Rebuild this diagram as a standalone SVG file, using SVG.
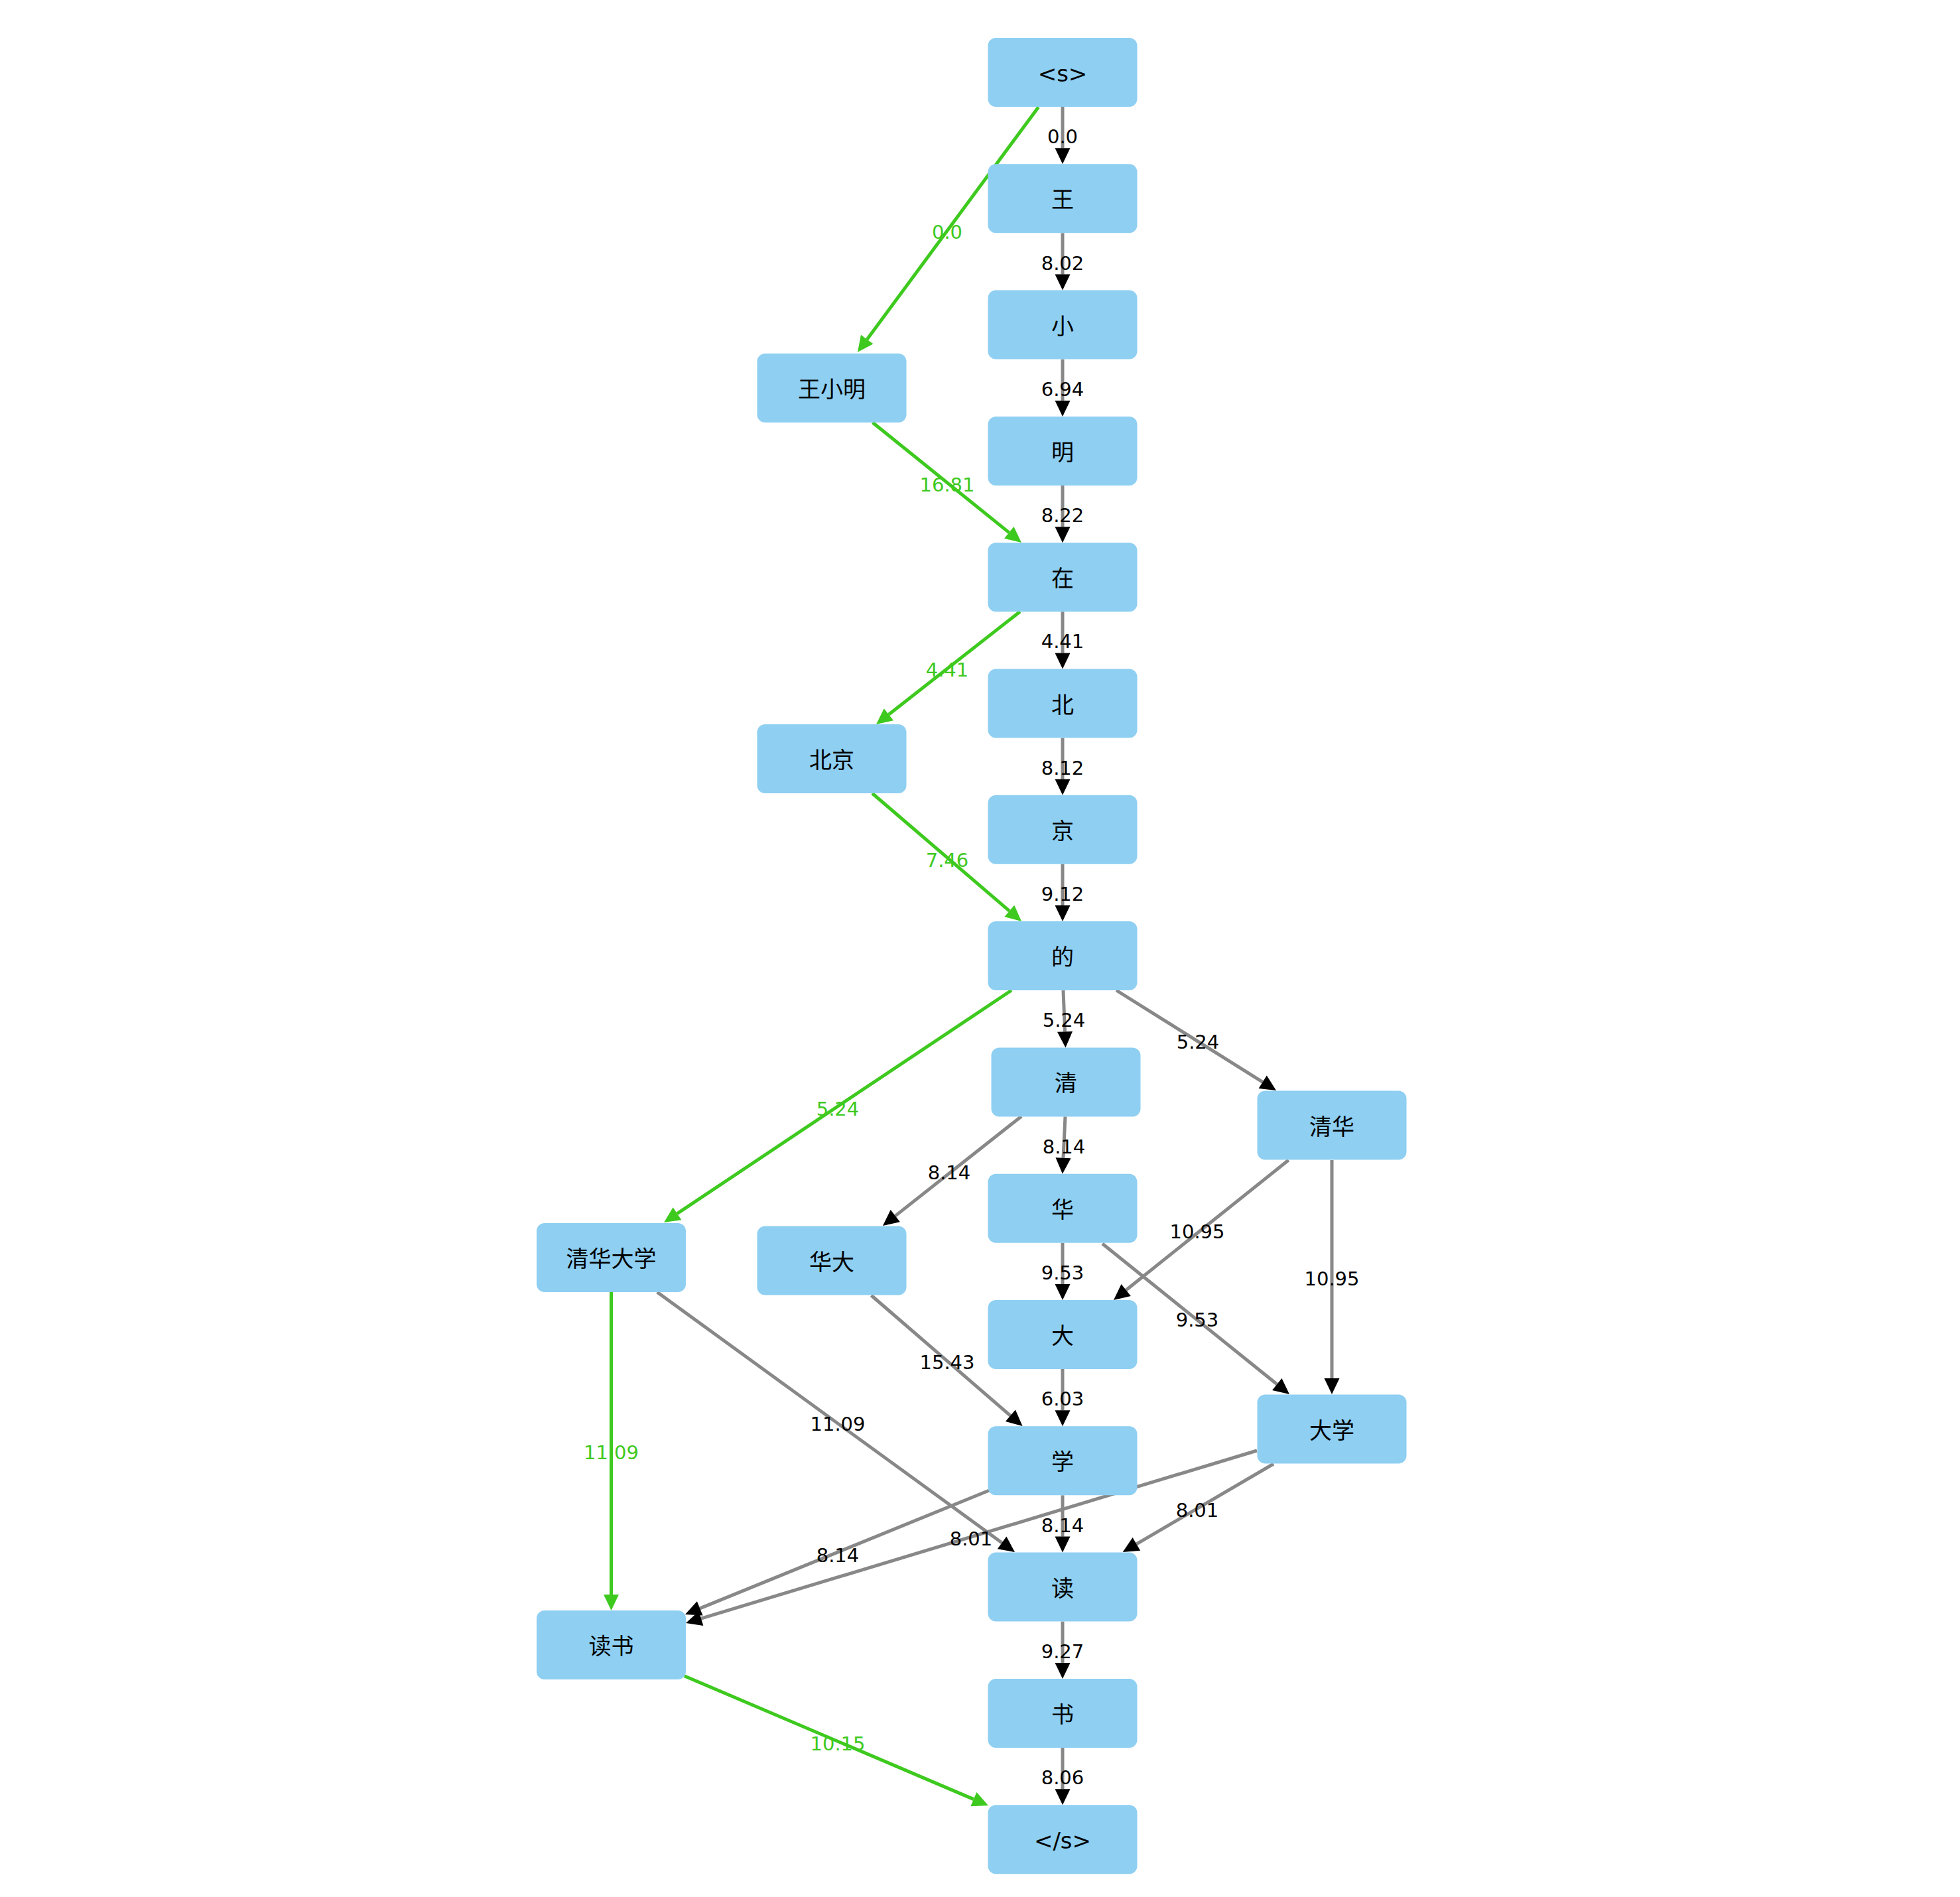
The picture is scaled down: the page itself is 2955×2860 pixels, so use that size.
<svg xmlns="http://www.w3.org/2000/svg" width="2955" height="2860" viewBox="0 0 2955 2860">
<defs>
<style>
.node rect{fill:#8ecff2;}
.node text{font-family:"DejaVu Sans","Noto Sans CJK SC",sans-serif;font-size:34px;fill:#000;text-anchor:middle;dominant-baseline:central;transform:translateY(2px);}
.e{stroke:#888888;stroke-width:5;fill:none;marker-end:url(#ab);}
.g{stroke:#3ec91f;stroke-width:5;fill:none;marker-end:url(#ag);}
.lb{font-family:"DejaVu Sans",sans-serif;font-size:29px;fill:#000;text-anchor:middle;dominant-baseline:central;transform:translateY(2px);}
.lg{font-family:"DejaVu Sans",sans-serif;font-size:29px;fill:#3ec91f;text-anchor:middle;dominant-baseline:central;transform:translateY(2px);}
</style>
<marker id="ab" markerUnits="userSpaceOnUse" markerWidth="26" markerHeight="26" refX="0" refY="11.5" orient="auto" overflow="visible"><path d="M0,0 L24,11.5 L0,23 z" fill="#000"/></marker>
<marker id="ag" markerUnits="userSpaceOnUse" markerWidth="26" markerHeight="26" refX="0" refY="11.5" orient="auto" overflow="visible"><path d="M0,0 L24,11.5 L0,23 z" fill="#3ec91f"/></marker>
</defs>
<rect width="2955" height="2860" fill="#fff"/>
<g id="connectors">
<path class="e" d="M1602,161 L1602,223.3"/>
<path class="e" d="M1602,351.3 L1602,413.6"/>
<path class="e" d="M1602,541.6 L1602,603.9"/>
<path class="e" d="M1602,731.9 L1602,794.2"/>
<path class="e" d="M1602,922.2 L1602,984.5"/>
<path class="e" d="M1602,1112.5 L1602,1174.8"/>
<path class="e" d="M1602,1302.8 L1602,1365.1"/>
<path class="e" d="M1603,1493.1 L1605.5,1555.4"/>
<path class="e" d="M1606,1683.4 L1603,1745.7"/>
<path class="e" d="M1602,1873.7 L1602,1936"/>
<path class="e" d="M1602,2064 L1602,2126.3"/>
<path class="e" d="M1602,2254.3 L1602,2316.6"/>
<path class="e" d="M1602,2444.6 L1602,2506.9"/>
<path class="e" d="M1602,2634.9 L1602,2697.2"/>
<path class="g" d="M1565.6,161.4 L1307.2,511.7"/>
<path class="g" d="M1315.6,637 L1521.3,802.9"/>
<path class="g" d="M1538,922 L1339.9,1077.2"/>
<path class="g" d="M1315,1196 L1521.8,1373.4"/>
<path class="g" d="M1525,1493 L1021,1829.7"/>
<path class="e" d="M1683,1493 L1903.7,1631.3"/>
<path class="e" d="M1540,1683 L1349.8,1833.1"/>
<path class="e" d="M1942.7,1749 L1697.7,1945"/>
<path class="e" d="M2008,1749 L2008,2078"/>
<path class="e" d="M1662,1875 L1925.3,2087"/>
<path class="e" d="M1313.6,1953 L1523.4,2134.3"/>
<path class="e" d="M990.7,1948 L1510.6,2325.9"/>
<path class="g" d="M921.5,1948 L921.5,2404"/>
<path class="e" d="M1492.6,2246.5 L1055.2,2424.9"/>
<path class="e" d="M1895,2187 L1057,2440.1"/>
<path class="e" d="M1920,2207 L1713.4,2327.9"/>
<path class="g" d="M1031.7,2526.7 L1467.9,2712.6"/>
<text class="lb" x="1602" y="204">0.0</text>
<text class="lb" x="1602" y="394.5">8.02</text>
<text class="lb" x="1602" y="584.8">6.94</text>
<text class="lb" x="1602" y="775">8.22</text>
<text class="lb" x="1602" y="965.4">4.41</text>
<text class="lb" x="1602" y="1155.7">8.12</text>
<text class="lb" x="1602" y="1346">9.12</text>
<text class="lb" x="1604" y="1536.3">5.24</text>
<text class="lb" x="1604" y="1726.6">8.14</text>
<text class="lb" x="1602" y="1916.9">9.53</text>
<text class="lb" x="1602" y="2107.2">6.03</text>
<text class="lb" x="1602" y="2297.5">8.14</text>
<text class="lb" x="1602" y="2487.8">9.27</text>
<text class="lb" x="1602" y="2678">8.06</text>
<text class="lg" x="1428" y="348">0.0</text>
<text class="lg" x="1428" y="729">16.81</text>
<text class="lg" x="1428" y="1008">4.41</text>
<text class="lg" x="1428" y="1295">7.46</text>
<text class="lg" x="1263" y="1670">5.24</text>
<text class="lb" x="1806" y="1569">5.24</text>
<text class="lb" x="1431" y="1766">8.14</text>
<text class="lb" x="1805" y="1855">10.95</text>
<text class="lb" x="2008" y="1926">10.95</text>
<text class="lb" x="1805" y="1988">9.53</text>
<text class="lb" x="1428" y="2052">15.43</text>
<text class="lb" x="1263" y="2145">11.09</text>
<text class="lg" x="921.5" y="2188">11.09</text>
<text class="lb" x="1263" y="2343">8.14</text>
<text class="lb" x="1464" y="2318">8.01</text>
<text class="lb" x="1805" y="2275">8.01</text>
<text class="lg" x="1263" y="2627">10.15</text>
</g>
<g id="n_s" class="node"><rect x="1489.5" y="57" width="225" height="104" rx="12"/><text x="1602" y="109">&lt;s&gt;</text></g>
<g id="n_wang" class="node"><rect x="1489.5" y="247.3" width="225" height="104" rx="12"/><text x="1602" y="299.3">王</text></g>
<g id="n_xiao" class="node"><rect x="1489.5" y="437.6" width="225" height="104" rx="12"/><text x="1602" y="489.6">小</text></g>
<g id="n_ming" class="node"><rect x="1489.5" y="627.9" width="225" height="104" rx="12"/><text x="1602" y="679.9">明</text></g>
<g id="n_zai" class="node"><rect x="1489.5" y="818.2" width="225" height="104" rx="12"/><text x="1602" y="870.2">在</text></g>
<g id="n_bei" class="node"><rect x="1489.5" y="1008.5" width="225" height="104" rx="12"/><text x="1602" y="1060.5">北</text></g>
<g id="n_jing" class="node"><rect x="1489.5" y="1198.8" width="225" height="104" rx="12"/><text x="1602" y="1250.8">京</text></g>
<g id="n_de" class="node"><rect x="1489.5" y="1389.1" width="225" height="104" rx="12"/><text x="1602" y="1441.1">的</text></g>
<g id="n_qing" class="node"><rect x="1494.5" y="1579.4" width="225" height="104" rx="12"/><text x="1607" y="1631.4">清</text></g>
<g id="n_hua" class="node"><rect x="1489.5" y="1769.7" width="225" height="104" rx="12"/><text x="1602" y="1821.7">华</text></g>
<g id="n_da" class="node"><rect x="1489.5" y="1960" width="225" height="104" rx="12"/><text x="1602" y="2012">大</text></g>
<g id="n_xue" class="node"><rect x="1489.5" y="2150.3" width="225" height="104" rx="12"/><text x="1602" y="2202.3">学</text></g>
<g id="n_du" class="node"><rect x="1489.5" y="2340.6" width="225" height="104" rx="12"/><text x="1602" y="2392.6">读</text></g>
<g id="n_shu" class="node"><rect x="1489.5" y="2530.9" width="225" height="104" rx="12"/><text x="1602" y="2582.9">书</text></g>
<g id="n_end" class="node"><rect x="1489.5" y="2721.2" width="225" height="104" rx="12"/><text x="1602" y="2773.2">&lt;/s&gt;</text></g>
<g id="n_wangxiaoming" class="node"><rect x="1141.5" y="533" width="225" height="104" rx="12"/><text x="1254" y="585">王小明</text></g>
<g id="n_beijing" class="node"><rect x="1141.5" y="1092" width="225" height="104" rx="12"/><text x="1254" y="1144">北京</text></g>
<g id="n_qinghuadaxue" class="node"><rect x="809" y="1844" width="225" height="104" rx="12"/><text x="921.5" y="1896">清华大学</text></g>
<g id="n_huada" class="node"><rect x="1141.5" y="1848.5" width="225" height="104" rx="12"/><text x="1254" y="1900.5">华大</text></g>
<g id="n_qinghua" class="node"><rect x="1895.5" y="1644.5" width="225" height="104" rx="12"/><text x="2008" y="1696.5">清华</text></g>
<g id="n_daxue" class="node"><rect x="1895.5" y="2102.5" width="225" height="104" rx="12"/><text x="2008" y="2154.5">大学</text></g>
<g id="n_dushu" class="node"><rect x="809" y="2428" width="225" height="104" rx="12"/><text x="921.5" y="2480">读书</text></g>
</svg>
